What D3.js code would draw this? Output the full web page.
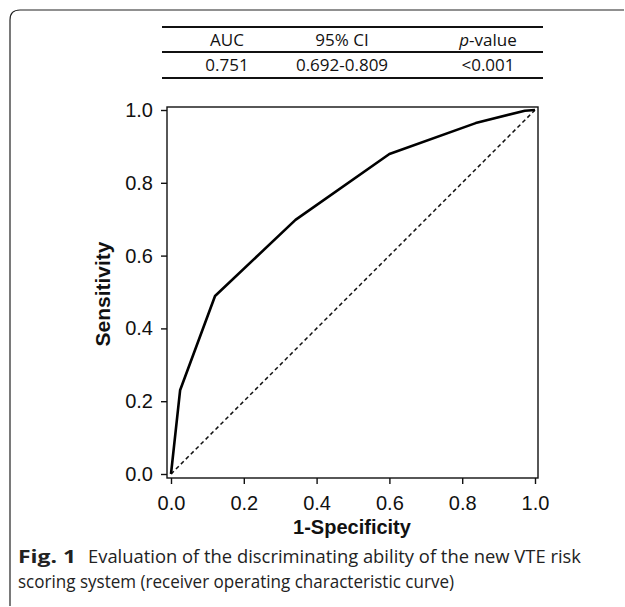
<!DOCTYPE html>
<html lang="en">
<head>
<meta charset="UTF-8">
<script src="https://d3js.org/d3.v7.min.js"></script>
<title>ROC</title>
<style>
  body { margin: 0; background: #fff; }
</style>
</head>
<body>
<div id="chart"></div>
<script>
// ROC curve points
const fpr = [0, 0.025, 0.121, 0.342, 0.600, 0.837, 0.972, 1.0]
const tpr = [0, 0.230, 0.489, 0.698, 0.879, 0.964, 0.998, 1.0]
const diagonal = [0, 1]
const tickValues = [0, 0.2, 0.4, 0.6, 0.8, 1.0]

const tableHead = ['AUC', '95% CI', 'p-value']
const tableRow = ['0.751', '0.692-0.809', '<0.001']

const captionBold = 'Fig. 1'
const captionLine1 = 'Evaluation of the discriminating ability of the new VTE risk'
const captionLine2 = 'scoring system (receiver operating characteristic curve)'

const W = 625, H = 607
const svg = d3.select('#chart').append('svg')
    .attr('width', W).attr('height', H)
    .style('display', 'block')

// outer figure border with rounded top-left corner
svg.append('path')
    .attr('d', 'M10,606 L10,20 Q10,10 20,10 L624,10')
    .attr('fill', 'none').attr('stroke', '#222').attr('stroke-width', 1.2)

// table above the plot
const colX = [227, 342, 488]
const tbl = svg.append('g').attr('font-family', 'Open Sans, sans-serif').attr('font-size', 17).attr('fill', '#111')
;[27, 52, 78].forEach(y => {
    tbl.append('line').attr('x1', 162).attr('x2', 543).attr('y1', y).attr('y2', y)
        .attr('stroke', '#111').attr('stroke-width', 1.8)
})
tableHead.forEach((t, i) => {
    const tx = tbl.append('text').attr('x', colX[i]).attr('y', 46).attr('text-anchor', 'middle')
    if (t === 'p-value') {
        tx.append('tspan').attr('font-style', 'italic').text('p')
        tx.append('tspan').text('-value')
    } else tx.text(t)
})
tableRow.forEach((t, i) => {
    tbl.append('text').attr('x', colX[i]).attr('y', 71).attr('text-anchor', 'middle').text(t)
})

// scales
const x = d3.scaleLinear().domain([0, 1]).range([171, 535])
const y = d3.scaleLinear().domain([0, 1]).range([474, 110])
const frame = {x0: 167, x1: 538, y0: 107, y1: 478}

// frame
svg.append('rect')
    .attr('x', frame.x0).attr('y', frame.y0)
    .attr('width', frame.x1 - frame.x0).attr('height', frame.y1 - frame.y0)
    .attr('fill', 'none').attr('stroke', '#111').attr('stroke-width', 1.4)

// axes
const fmt = d3.format('.1f')
const yAxis = svg.append('g').attr('transform', `translate(${frame.x0},0)`)
    .call(d3.axisLeft(y).tickValues(tickValues).tickFormat(fmt).tickSize(6).tickPadding(8))
const xAxis = svg.append('g').attr('transform', `translate(0,${frame.y1})`)
    .call(d3.axisBottom(x).tickValues(tickValues).tickFormat(fmt).tickSize(6).tickPadding(12))
;[xAxis, yAxis].forEach(g => {
    g.select('.domain').remove()
    g.selectAll('.tick line').attr('stroke', '#111').attr('stroke-width', 1.4)
    g.selectAll('.tick text').attr('font-family', 'Liberation Sans, Arial, sans-serif')
        .attr('font-size', 20).attr('fill', '#111')
})

// axis titles
svg.append('text').attr('x', 352).attr('y', 534).attr('text-anchor', 'middle')
    .attr('font-family', 'Liberation Sans, Arial, sans-serif').attr('font-weight', 'bold')
    .attr('font-size', 20).attr('fill', '#111').text('1-Specificity')
svg.append('text').attr('transform', 'translate(110,294) rotate(-90)').attr('text-anchor', 'middle')
    .attr('font-family', 'Liberation Sans, Arial, sans-serif').attr('font-weight', 'bold')
    .attr('font-size', 21).attr('fill', '#111').text('Sensitivity')

// reference diagonal
svg.append('line')
    .attr('x1', x(diagonal[0])).attr('y1', y(diagonal[0]))
    .attr('x2', x(diagonal[1])).attr('y2', y(diagonal[1]))
    .attr('stroke', '#111').attr('stroke-width', 1.5).attr('stroke-dasharray', '4,3')

// ROC curve
const pts = fpr.map((f, i) => [f, tpr[i]])
svg.append('path')
    .attr('d', d3.line().x(d => x(d[0])).y(d => y(d[1]))(pts))
    .attr('fill', 'none').attr('stroke', '#000').attr('stroke-width', 2.6)
    .attr('stroke-linejoin', 'round')

// caption (widths squeezed to match the narrower original typeface)
const cap = svg.append('g').attr('font-family', 'Open Sans, sans-serif').attr('font-size', 18.5).attr('fill', '#222')
cap.append('text').attr('x', 18).attr('y', 563).attr('font-weight', 'bold')
    .attr('textLength', 58).attr('lengthAdjust', 'spacingAndGlyphs').text(captionBold)
cap.append('text').attr('x', 88).attr('y', 563)
    .attr('textLength', 493).attr('lengthAdjust', 'spacingAndGlyphs').text(captionLine1)
cap.append('text').attr('x', 18).attr('y', 588)
    .attr('textLength', 436).attr('lengthAdjust', 'spacingAndGlyphs').text(captionLine2)
</script>
</body>
</html>
